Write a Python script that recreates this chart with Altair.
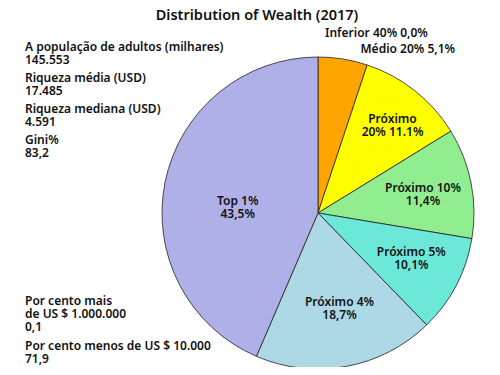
import altair as alt
import pandas as pd

groups = ["Inferior 40%", "Médio 20%", "Próximo 20%", "Próximo 10%", "Próximo 5%", "Próximo 4%", "Top 1%"]
shares = [0.0, 5.1, 11.1, 11.4, 10.1, 18.7, 43.5]
slice_labels = ["", "", "Próximo\n20% 11.1%", "Próximo 10%\n11,4%", "Próximo 5%\n10,1%", "Próximo 4%\n18,7%", "Top 1%\n43,5%"]
colors = ["#FF4500", "#FFA500", "#FFFF00", "#90EE90", "#6CE8D8", "#ADD8E6", "#B0B0E8"]

outer_labels = ["Inferior 40% 0,0%", "Médio 20% 5,1%"]
stats_text = [
    "A população de adultos (milhares)\n145.553",
    "Riqueza média (USD)\n17.485",
    "Riqueza mediana (USD)\n4.591",
    "Gini%\n83,2",
]
bottom_text = [
    "Por cento mais\nde US $ 1.000.000\n0,1",
    "Por cento menos de US $ 10.000\n71,9",
]

df = pd.DataFrame({
    "group": groups,
    "share": shares,
    "label": slice_labels,
    "idx": list(range(len(groups))),
})

FONT = "Noto Sans"
FS = 12
FW = 600
CX, CY, R = 310, 180, 156

base = alt.Chart(df).encode(
    theta=alt.Theta("share:Q", stack=True),
    order=alt.Order("idx:Q", sort="ascending"),
)

pie = base.mark_arc(radius=R, stroke="#222222", strokeWidth=0.8).encode(
    x=alt.value(CX),
    y=alt.value(CY),
    color=alt.Color("group:N", scale=alt.Scale(domain=groups, range=colors), legend=None),
)


def slice_label(i, radius, dx=0, dy=0):
    return base.transform_calculate(
        t=f"datum.idx == {i} ? datum.label : ''"
    ).mark_text(radius=radius, dx=dx, dy=dy, lineBreak="\n", font=FONT, fontSize=FS,
                fontWeight=FW, color="#111111", align="center", baseline="middle",
                lineHeight=13).encode(
        x=alt.value(CX), y=alt.value(CY), text="t:N"
    )


labels = [
    slice_label(2, 120),
    slice_label(3, 107, 0, -4),
    slice_label(4, 102, 3, -8),
    slice_label(5, 91, 5, 0),
    slice_label(6, 82, 0, 5),
]


def note(txt, x, y, align="left"):
    return alt.Chart(pd.DataFrame({"t": [txt]})).mark_text(
        lineBreak="\n", font=FONT, fontSize=FS, fontWeight=FW, color="#111111", align=align,
        baseline="alphabetic", lineHeight=13,
    ).encode(x=alt.value(x), y=alt.value(y), text="t:N")


notes = [
    note(outer_labels[0], 317, 4),
    note(outer_labels[1], 447, 20, align="right"),
]
for i, s in enumerate(stats_text):
    notes.append(note(s, 17, 17.5 + 31 * i))
notes.append(note(bottom_text[0], 17, 272))
notes.append(note(bottom_text[1], 17, 317))

chart = alt.layer(pie, *labels, *notes).properties(
    width=484, height=334,
    title=alt.TitleParams("Distribution of Wealth (2017)", font=FONT, fontSize=14.5,
                          fontWeight=FW, color="#111111", anchor="middle", offset=4, dx=7),
    padding={"left": 0, "top": 25, "right": 0, "bottom": 0},
    autosize="none",
).configure_view(stroke=None)

chart.save("out.html", embed_options={"renderer": "svg", "actions": False})
